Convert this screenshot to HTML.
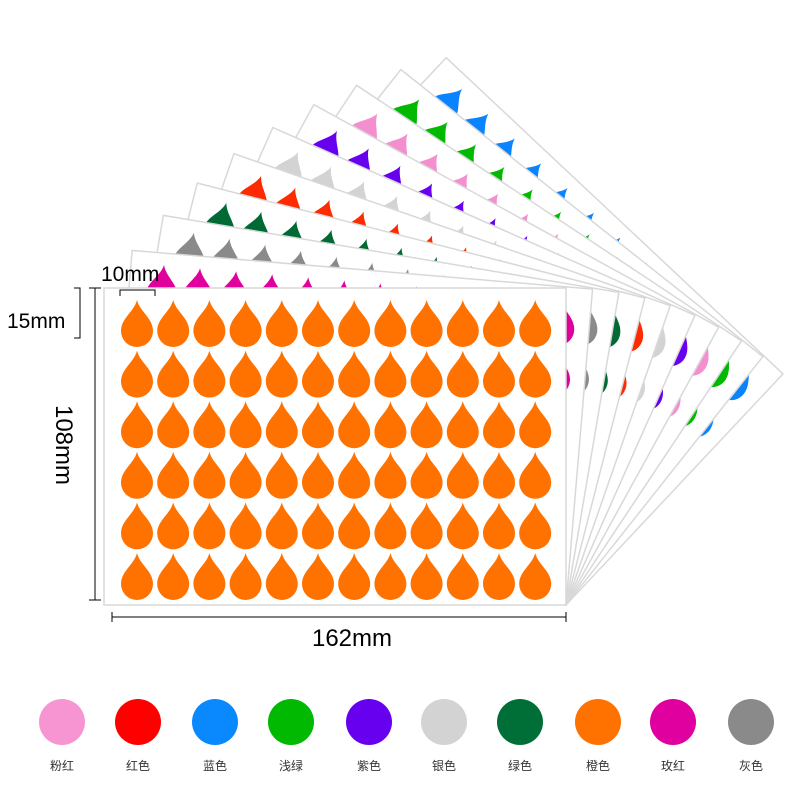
<!DOCTYPE html>
<html><head><meta charset="utf-8"><style>
html,body{margin:0;padding:0;background:#fff;}
svg{display:block}
text{font-family:"Liberation Sans","Noto Sans CJK SC",sans-serif;}
</style></head><body>
<svg id="s" width="800" height="800" viewBox="0 0 800 800" xmlns="http://www.w3.org/2000/svg">
<defs>
<path id="d" d="M0,-23 C3,-11 16,-5 16,8 A16,16 0 0 1 -16,8 C-16,-5 -3,-11 0,-23 Z"/>
</defs>
<g id="sheets"></g>
<g stroke="#000" stroke-width="1" fill="none">
<path d="M120,296 V290 H155 V296"/>
<path d="M74,288 H80 V338 H74"/>
<path d="M89,288 H101 M95,288 V600 M89,600 H101"/>
<path d="M112,612 V622 M112,617 H566 M566,612 V622"/>
</g>
<text x="101" y="281" font-size="21">10mm</text>
<text x="7" y="328" font-size="21">15mm</text>
<text x="0" y="0" font-size="24" transform="translate(56,445) rotate(90)" text-anchor="middle">108mm</text>
<text x="352" y="646" font-size="24" text-anchor="middle">162mm</text>
<g id="legend"></g>
</svg>
<script>
var NS="http://www.w3.org/2000/svg";
var sh=document.getElementById('sheets');
function sheet(color,ang){
  var g=document.createElementNS(NS,'g');
  g.setAttribute('transform','rotate('+ang+',566,605)');
  var r=document.createElementNS(NS,'rect');
  r.setAttribute('x',104);r.setAttribute('y',288);r.setAttribute('width',462);r.setAttribute('height',317);
  r.setAttribute('fill','#fff');r.setAttribute('stroke','#d8d8d8');r.setAttribute('stroke-width','1.5');
  g.appendChild(r);
  for(var j=0;j<6;j++)for(var i=0;i<12;i++){
    var u=document.createElementNS(NS,'use');
    u.setAttribute('href','#d');
    u.setAttribute('transform','translate('+(137+i*36.2)+','+(323+j*50.6)+')');
    u.setAttribute('fill',color);
    g.appendChild(u);
  }
  sh.appendChild(g);
}
var back=['#0a84fe','#00b900','#f48fcf','#6600ee','#d3d3d3','#fe2a00','#006a35','#8a8a8a','#e0009c'];
for(var k=0;k<back.length;k++) sheet(back[k],(9-k)*4.8);
sheet('#ff7200',0);
var lg=document.getElementById('legend');
var cols=['#f795d2','#fe0000','#0a88fe','#00b900','#6600ee','#d3d3d3','#006f37','#ff7200','#e0009f','#8a8a8a'];
var names=['粉红','红色','蓝色','浅绿','紫色','银色','绿色','橙色','玫红','灰色'];
var xs=[62,138,215,291,369,444,520,598,673,751];
for(var k=0;k<10;k++){
  var c=document.createElementNS(NS,'circle');
  c.setAttribute('cx',xs[k]);c.setAttribute('cy',722);c.setAttribute('r',23);c.setAttribute('fill',cols[k]);
  lg.appendChild(c);
  var t=document.createElementNS(NS,'text');
  t.setAttribute('x',xs[k]);t.setAttribute('y',770);t.setAttribute('font-size',12);t.setAttribute('text-anchor','middle');t.setAttribute('fill','#333');
  t.textContent=names[k];lg.appendChild(t);
}
</script>
</body></html>
